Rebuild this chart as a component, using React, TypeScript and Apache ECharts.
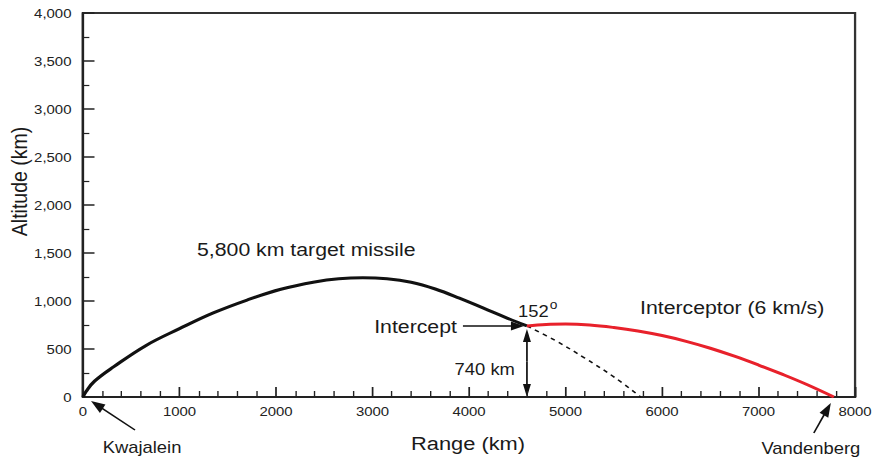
import React, { useEffect, useRef } from "react";
import * as echarts from "echarts";

// ---------------- data ----------------
const targetRange = [0, 30, 120, 320, 650, 1000, 1350, 1700, 2050, 2400, 2650, 2900, 3150, 3400, 3650, 3900, 4150, 4400, 4600];
const targetAlt = [0, 55, 165, 316, 535, 712, 876, 1010, 1122, 1198, 1232, 1243, 1232, 1195, 1125, 1030, 925, 820, 740];

const interceptorRange = [4600, 4800, 5000, 5250, 5500, 5750, 6000, 6250, 6500, 6750, 7000, 7250, 7500, 7780];
const interceptorAlt = [740, 756, 760, 750, 724, 688, 640, 580, 508, 425, 333, 235, 130, 0];

const continuedRange = [4600, 4900, 5200, 5500, 5780];
const continuedAlt = [740, 585, 405, 210, 0];

const interceptPoint = [4600, 740];
const launchPoint = [0, 0];
const interceptorLaunch = [7780, 0];

const xTicks = [0, 1000, 2000, 3000, 4000, 5000, 6000, 7000, 8000];
const yTicks = [0, 500, 1000, 1500, 2000, 2500, 3000, 3500, 4000];

// ---------------- layout ----------------
const S = 1.15; // horizontal stretch of the reference figure
const W = 875;
const H = 461;
const FONT = "'Liberation Sans', Arial, Helvetica, sans-serif";
const INK = "#111";

const zip = (a: number[], b: number[]) => a.map((v, i) => [v, b[i]]);

export default function App() {
  const ref = useRef<HTMLDivElement>(null);

  useEffect(() => {
    const el = ref.current!;
    const chart = echarts.init(el, undefined, { renderer: "svg" });

    chart.setOption({
      animation: false,
      grid: {
        left: 83 / S,
        right: (W - 856) / S,
        top: 13,
        bottom: H - 397,
        show: true,
        borderColor: "#333",
        borderWidth: 2,
        backgroundColor: "transparent",
      },
      xAxis: {
        type: "value",
        min: xTicks[0],
        max: xTicks[xTicks.length - 1],
        interval: xTicks[1] - xTicks[0],
        axisLine: { show: true, lineStyle: { color: "#222", width: 2 } },
        axisTick: { show: true, inside: true, length: 10, lineStyle: { color: "#222", width: 1.5 } },
        minorTick: { show: true, splitNumber: 5, length: 6, lineStyle: { color: "#222", width: 1.2 } },
        splitLine: { show: false },
        axisLabel: {
          margin: 8,
          fontSize: 13,
          color: "#222",
          fontFamily: FONT,
          formatter: (v: number) => String(v),
        },
      },
      yAxis: {
        type: "value",
        min: yTicks[0],
        max: yTicks[yTicks.length - 1],
        interval: yTicks[1] - yTicks[0],
        axisLine: { show: true, lineStyle: { color: "#222", width: 2 } },
        axisTick: { show: true, inside: true, length: 10, lineStyle: { color: "#222", width: 1.5 } },
        minorTick: { show: true, splitNumber: 2, length: 5.5, lineStyle: { color: "#222", width: 1.2 } },
        splitLine: { show: false },
        axisLabel: {
          margin: 10,
          fontSize: 13,
          color: "#222",
          fontFamily: FONT,
          formatter: (v: number) => v.toLocaleString("en-US"),
        },
      },
      series: [
        {
          type: "line",
          data: zip(continuedRange, continuedAlt),
          symbol: "none",
          smooth: 0.4,
          lineStyle: { color: INK, width: 1.5, type: [4, 4] },
          z: 2,
        },
        {
          type: "line",
          data: zip(targetRange, targetAlt),
          symbol: "none",
          smooth: 0.4,
          lineStyle: { color: INK, width: 3 },
          z: 3,
        },
        {
          type: "line",
          data: zip(interceptorRange, interceptorAlt),
          symbol: "none",
          smooth: 0.4,
          lineStyle: { color: "#e8212b", width: 3 },
          z: 3,
        },
      ],
    });

    // positions in page (post-stretch) pixels
    const post = (pt: number[]) => {
      const p = chart.convertToPixel({ gridIndex: 0 }, pt) as number[];
      return [p[0] * S, p[1]];
    };
    const toPre = (pt: number[]) => [pt[0] / S, pt[1]];

    const arrow = (tail: number[], tip: number[], len = 12, half = 4, w = 1.5) => {
      const dx = tip[0] - tail[0];
      const dy = tip[1] - tail[1];
      const d = Math.hypot(dx, dy);
      const ux = dx / d;
      const uy = dy / d;
      const base = [tip[0] - ux * len, tip[1] - uy * len];
      const l = [base[0] - uy * half, base[1] + ux * half];
      const r = [base[0] + uy * half, base[1] - ux * half];
      return [
        {
          type: "line",
          silent: true,
          shape: { x1: tail[0] / S, y1: tail[1], x2: (base[0] + ux * 2) / S, y2: base[1] + uy * 2 },
          style: { stroke: INK, lineWidth: w },
        },
        {
          type: "polygon",
          silent: true,
          shape: { points: [tip, l, r].map(toPre) },
          style: { fill: INK },
        },
      ];
    };

    const text = (
      str: string,
      x: number,
      y: number,
      size: number,
      align: string = "left",
      extra: any = {}
    ) => ({
      type: "text",
      silent: true,
      x: x / S,
      y,
      style: {
        text: str,
        fontSize: size,
        fontFamily: FONT,
        fill: "#1a1a1a",
        align,
        verticalAlign: "middle",
      },
      ...extra,
    });

    const O = post(launchPoint);
    const V = post(interceptorLaunch);
    const I = post(interceptPoint);

    const graphic: any[] = [
      // axis names
      text("Range (km)", 468, 443, 19, "center"),
      { ...text("Altitude (km)", 19, 181.5, 19.5, "center"), rotation: Math.PI / 2 },
      // curve labels
      text("5,800 km target missile", 197, 250, 18.5),
      text("Interceptor (6 km/s)", 640, 308, 18.5),
      // Kwajalein
      ...arrow([O[0] + 52, O[1] + 33], [O[0] + 8, O[1] + 4], 14, 5),
      text("Kwajalein", O[0] + 59, O[1] + 50, 16, "center"),
      // Vandenberg
      ...arrow([V[0] - 20, V[1] + 36], [V[0] - 3, V[1] + 6], 14, 5),
      text("Vandenberg", V[0] - 23, V[1] + 51, 16, "center"),
      // Intercept arrow
      ...arrow([I[0] - 64, I[1]], [I[0] - 3, I[1]], 13, 4.5),
      text("Intercept", I[0] - 70, I[1] + 1, 18.5, "right"),
      // 740 km double arrow
      ...arrow([I[0], (I[1] + O[1]) / 2], [I[0], I[1] + 3], 13, 4),
      ...arrow([I[0], (I[1] + O[1]) / 2], [I[0], O[1]], 13, 4),
      text("740 km", I[0] - 12, O[1] - 28, 16, "right"),
      // 152 degrees
      {
        type: "text",
        silent: true,
        x: (I[0] - 9) / S,
        y: I[1] - 17,
        style: {
          text: "{n|152}{s|o}",
          fontFamily: FONT,
          fill: "#1a1a1a",
          align: "left",
          verticalAlign: "middle",
          rich: {
            n: { fontSize: 16, fontFamily: FONT, fill: "#1a1a1a", verticalAlign: "bottom" },
            s: { fontSize: 12, fontFamily: FONT, fill: "#1a1a1a", verticalAlign: "top", padding: [0, 0, 8, 1] },
          },
        },
      },
    ];

    chart.setOption({ graphic });

    return () => chart.dispose();
  }, []);

  return (
    <div
      ref={ref}
      style={{
        position: "absolute",
        left: 0,
        top: 0,
        width: W / S,
        height: H,
        transform: `scaleX(${S})`,
        transformOrigin: "0 0",
        background: "#fff",
      }}
    />
  );
}
